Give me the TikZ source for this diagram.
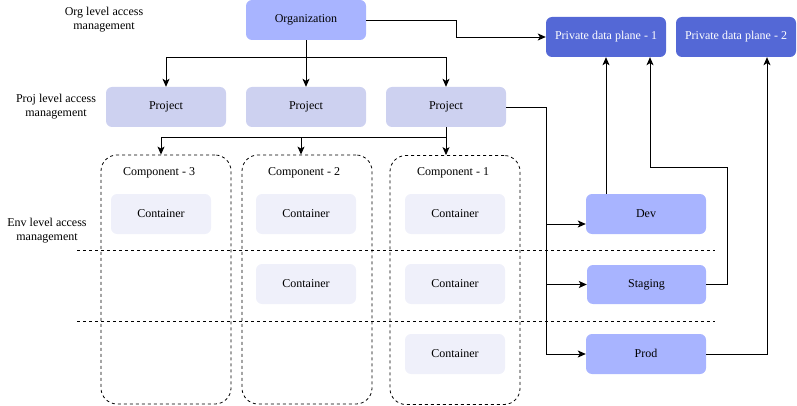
\documentclass[tikz,border=0pt]{standalone}
\usepackage{fontspec}
\setmainfont{Liberation Serif}
\usetikzlibrary{arrows.meta}
\definecolor{orgc}{HTML}{A8B4FF}
\definecolor{pdpc}{HTML}{5468D6}
\definecolor{projc}{HTML}{CDD1F0}
\definecolor{contc}{HTML}{EFF0FA}
\begin{document}
\begin{tikzpicture}[x=1pt,y=-1pt,
  box/.style={rectangle, rounded corners=6pt, minimum width=120pt, minimum height=40pt, inner sep=0pt, font=\fontsize{12}{14}\selectfont, text height=8.5pt, text depth=2.5pt},
  orgbox/.style={box, fill=orgc},
  pdpbox/.style={box, fill=pdpc, text=white},
  projbox/.style={box, fill=projc},
  contbox/.style={box, fill=contc, minimum width=100pt},
  envbox/.style={box, fill=orgc},
  compbox/.style={draw, dash pattern=on 3pt off 3pt, line width=0.8pt, rounded corners=16pt, minimum width=130pt, minimum height=249pt, inner sep=0pt},
  lbl/.style={align=center, font=\fontsize{12}{14}\selectfont, inner sep=0pt},
  arr/.style={-{Stealth[length=8pt,width=7pt,inset=2pt]}, line width=0.9pt},
  ln/.style={line width=0.9pt},
  sep/.style={dash pattern=on 3pt off 3pt, line width=0.8pt}
]
\useasboundingbox (0,0) rectangle (797,406);
% labels
\node[lbl] (l1) at (104,20) {Org level access\\management};
\node[lbl] (l2) at (56,107) {Proj level access\\management};
\node[lbl] (l3) at (47,231) {Env level access\\management};
% top
\node[orgbox] (org) at (306,20) {Organization};
\node[pdpbox] (pdp1) at (606,37) {Private data plane - 1};
\node[pdpbox] (pdp2) at (736,37) {Private data plane - 2};
% projects
\node[projbox] (p1) at (166,107) {Project};
\node[projbox] (p2) at (306,107) {Project};
\node[projbox] (p3) at (446,107) {Project};
% components
\node[compbox] (c3) at (166,279.5) {};
\node[compbox] (c2) at (307,279.5) {};
\node[compbox] (c1) at (455,280) {};
\node[lbl] (c3t) at (159,173) {Component - 3};
\node[lbl] (c2t) at (304,173) {Component - 2};
\node[lbl] (c1t) at (453,173) {Component - 1};
% separators
\coordinate (s1a) at (77,250); \coordinate (s1b) at (715,250);
\coordinate (s2a) at (77,321.5); \coordinate (s2b) at (715,321.5);
\draw[sep] (s1a) -- (s1b);
\draw[sep] (s2a) -- (s2b);
% containers
\node[contbox] (k31) at (161,214) {Container};
\node[contbox] (k21) at (306,214) {Container};
\node[contbox] (k22) at (306,284) {Container};
\node[contbox] (k11) at (455,214) {Container};
\node[contbox] (k12) at (455,284) {Container};
\node[contbox] (k13) at (455,354) {Container};
% environments
\node[envbox] (dev) at (646,214) {Dev};
\node[envbox, minimum width=119pt, minimum height=39pt] (stg) at (646.5,284.5) {Staging};
\node[envbox] (prod) at (646,354) {Prod};
% connectors
\coordinate (oa) at (456,20);
\draw[arr] (org.east) -- (oa) |- (pdp1.west);
\coordinate (oj) at (306,57);
\draw[ln] (org.south) -- (oj);
\draw[arr] (oj) -| (p1.north);
\draw[arr] (oj) -- (p2.north);
\draw[arr] (oj) -| (p3.north);
\coordinate (pj) at (446,137);
\draw[ln] (p3.south) -- (pj);
\draw[arr] (pj) -| ([xshift=-5pt]c3.north);
\draw[arr] (pj) -| ([xshift=-6pt]c2.north);
\draw[arr] (pj) -- ([xshift=-9pt]c1.north);
\coordinate (pe) at (546,107);
\draw[ln] (p3.east) -- (pe) -- (546,354);
\coordinate (dv) at (546,224);
\draw[arr] (dv) -- (dv -| dev.west);
\draw[arr] (546,284.5) -- (stg.west);
\draw[arr] (546,354) -- (prod.west);
\draw[arr] (dev.north -| pdp1.south) -- (pdp1.south);
\coordinate (sa) at (727,284.5);
\coordinate (sb) at (727,167);
\coordinate (sc) at (650,167);
\draw[arr] (stg.east) -- (sa) -- (sb) -- (sc) -- (sc |- pdp1.south);
\coordinate (pa) at (767,354);
\draw[arr] (prod.east) -- (pa) -- (pa |- pdp2.south);
\end{tikzpicture}
\end{document}
